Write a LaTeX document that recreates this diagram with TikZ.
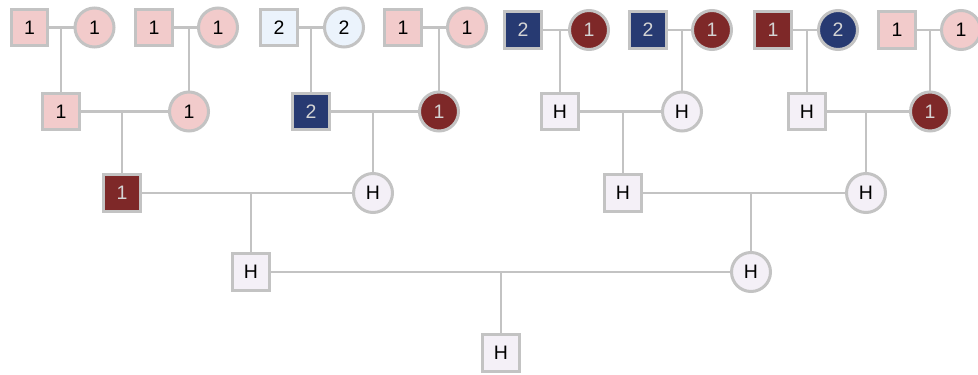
\documentclass[tikz,border=0pt]{standalone}
\usepackage{fontspec}
\setmainfont{Liberation Sans}
\definecolor{bordc}{HTML}{C3C3C3}
\definecolor{pinkc}{HTML}{F2CBCB}
\definecolor{lbluec}{HTML}{EBF3FC}
\definecolor{dbluec}{HTML}{273A72}
\definecolor{dredc}{HTML}{7E2828}
\definecolor{hc}{HTML}{F4F0F7}
\definecolor{ltxt}{HTML}{D4D4D4}
\tikzset{
  base/.style={draw=bordc, line width=3pt, inner sep=0pt, font=\fontsize{19.5}{19.5}\selectfont},
  sq/.style={base, rectangle, minimum size=36.5pt},
  ci/.style={base, circle, minimum size=39pt},
  pk/.style={fill=pinkc, text=black},
  lb/.style={fill=lbluec, text=black},
  db/.style={fill=dbluec, text=ltxt},
  dr/.style={fill=dredc, text=ltxt},
  hh/.style={fill=hc, text=black},
  link/.style={draw=bordc, line width=2.8pt}
}
\begin{document}
\begin{tikzpicture}[x=1pt,y=-1pt]
\useasboundingbox (0,0) rectangle (978,375);
% row 1
\node[sq,pk] (a1) at (29.5,27.5) {1};
\node[ci,pk] (a2) at (94.5,27.5) {1};
\node[sq,pk] (a3) at (154,27.5) {1};
\node[ci,pk] (a4) at (218,27.5) {1};
\node[sq,lb] (a5) at (279,27.5) {2};
\node[ci,lb] (a6) at (344,27.5) {2};
\node[sq,pk] (a7) at (403,27.5) {1};
\node[ci,pk] (a8) at (467,27.5) {1};
\node[sq,db] (a9) at (523,30) {2};
\node[ci,dr] (a10) at (589,30) {1};
\node[sq,db] (a11) at (648,30) {2};
\node[ci,dr] (a12) at (712,30) {1};
\node[sq,dr] (a13) at (773,30) {1};
\node[ci,db] (a14) at (838,30) {2};
\node[sq,pk] (a15) at (897,30) {1};
\node[ci,pk] (a16) at (961,30) {1};
% row 2
\node[sq,pk] (b1) at (61,111.5) {1};
\node[ci,pk] (b2) at (189,111.5) {1};
\node[sq,db] (b3) at (311,111.5) {2};
\node[ci,dr] (b4) at (439,111.5) {1};
\node[sq,hh] (b5) at (560,111.5) {H};
\node[ci,hh] (b6) at (682,111.5) {H};
\node[sq,hh] (b7) at (807,111.5) {H};
\node[ci,dr] (b8) at (930,111.5) {1};
% row 3
\node[sq,dr] (c1) at (122,193) {1};
\node[ci,hh] (c2) at (373,193) {H};
\node[sq,hh] (c3) at (623,193) {H};
\node[ci,hh] (c4) at (866,193) {H};
% row 4
\node[sq,hh] (d1) at (251,272) {H};
\node[ci,hh] (d2) at (751,272) {H};
% row 5
\node[sq,hh] (e1) at (501,353) {H};
% couples and descent
\foreach \f/\m/\k in {a1/a2/b1,a3/a4/b2,a5/a6/b3,a7/a8/b4,a9/a10/b5,a11/a12/b6,a13/a14/b7,a15/a16/b8,b1/b2/c1,b3/b4/c2,b5/b6/c3,b7/b8/c4,c1/c2/d1,c3/c4/d2,d1/d2/e1}{
  \draw[link] (\f.east) -- (\m.west);
  \draw[link] (\k.north) -- (\k.north |- \f.east);
}
\end{tikzpicture}
\end{document}
